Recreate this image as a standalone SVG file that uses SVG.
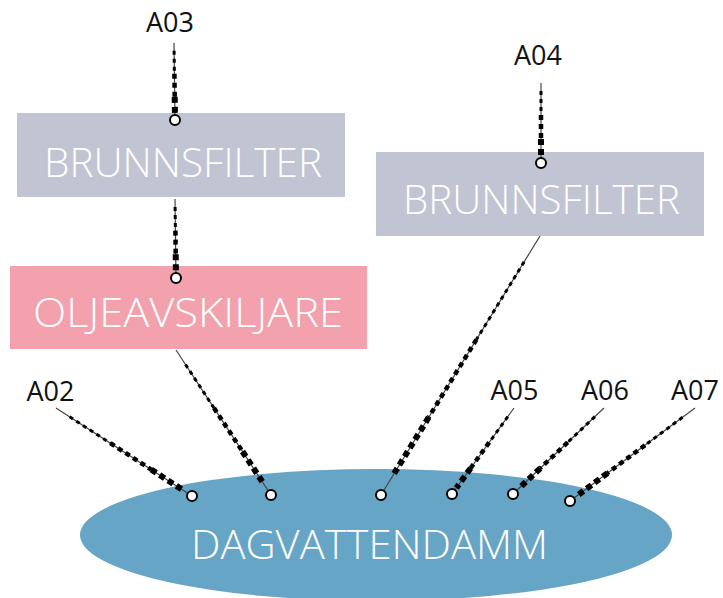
<svg xmlns="http://www.w3.org/2000/svg" width="723" height="598" viewBox="0 0 723 598">
<style>
.box-g{fill:#c1c4d2}
.box-p{fill:#f2a1ad}
.pond{fill:#67a5c6}
.nt{font-family:"Open Sans","Liberation Sans",sans-serif;font-size:41px;font-weight:300;fill:#ffffff;text-anchor:middle}
.lb{font-family:"Open Sans","Liberation Sans",sans-serif;font-size:27px;fill:#111111;text-anchor:middle}
.base{stroke:#444;stroke-width:1.2;fill:none}
.d1{stroke:#000;stroke-width:3;stroke-dasharray:4 4;fill:none}
.d2{stroke:#000;stroke-width:4.5;stroke-dasharray:5 4;fill:none}
.d3{stroke:#000;stroke-width:6;stroke-dasharray:6 4;fill:none}
.pt{fill:#fff;stroke:#000;stroke-width:2}
</style>
<rect width="723" height="598" fill="#fff"/>
<g id="node-brunnsfilter1"><rect class="box-g" x="17" y="113" width="328" height="84"/><text class="nt" x="183" y="177" textLength="278" lengthAdjust="spacingAndGlyphs">BRUNNSFILTER</text></g>
<g id="node-oljeavskiljare"><rect class="box-p" x="10" y="266" width="357" height="83"/><text class="nt" x="188" y="327" textLength="310" lengthAdjust="spacingAndGlyphs">OLJEAVSKILJARE</text></g>
<g id="node-brunnsfilter2"><rect class="box-g" x="376" y="152" width="328" height="84"/><text class="nt" x="541.5" y="214" textLength="277" lengthAdjust="spacingAndGlyphs">BRUNNSFILTER</text></g>
<g id="node-dagvattendamm"><ellipse class="pond" cx="376" cy="535" rx="296" ry="66"/><text class="nt" x="369.5" y="559" textLength="357" lengthAdjust="spacingAndGlyphs">DAGVATTENDAMM</text></g>
<g id="labels">
<text class="lb" x="170" y="32">A03</text>
<text class="lb" x="538" y="65">A04</text>
<text class="lb" x="50.5" y="401">A02</text>
<text class="lb" x="514.5" y="400">A05</text>
<text class="lb" x="605" y="400">A06</text>
<text class="lb" x="695" y="400">A07</text>
</g>
<g id="connectors">
<g><line class="base" x1="174" y1="43" x2="175" y2="120"/><line class="d1" x1="174.1" y1="50.7" x2="174.4" y2="73.8"/><line class="d2" x1="174.4" y1="73.8" x2="174.7" y2="96.9"/><line class="d3" x1="174.7" y1="96.9" x2="174.93" y2="114.6"/><circle class="pt" cx="175" cy="120" r="5"/></g>
<g><line class="base" x1="175" y1="199" x2="176" y2="278"/><line class="d1" x1="175.1" y1="206.9" x2="175.4" y2="230.6"/><line class="d2" x1="175.4" y1="230.6" x2="175.7" y2="254.3"/><line class="d3" x1="175.7" y1="254.3" x2="175.93" y2="272.5"/><circle class="pt" cx="176" cy="278" r="5"/></g>
<g><line class="base" x1="541" y1="83" x2="541" y2="163"/><line class="d1" x1="541" y1="91" x2="541" y2="115"/><line class="d2" x1="541" y1="115" x2="541" y2="139"/><line class="d3" x1="541" y1="139" x2="541" y2="157.4"/><circle class="pt" cx="541" cy="163" r="5"/></g>
<g><line class="base" x1="56" y1="408" x2="192" y2="496"/><line class="d1" x1="69.6" y1="416.8" x2="110.4" y2="443.2"/><line class="d2" x1="110.4" y1="443.2" x2="151.2" y2="469.6"/><line class="d3" x1="151.2" y1="469.6" x2="182.5" y2="489.8"/><circle class="pt" cx="192" cy="496" r="5"/></g>
<g><line class="base" x1="176" y1="350" x2="271" y2="495"/><line class="d1" x1="185.5" y1="364.5" x2="214" y2="408"/><line class="d2" x1="214" y1="408" x2="242.5" y2="451.5"/><line class="d3" x1="242.5" y1="451.5" x2="264.35" y2="484.85"/><circle class="pt" cx="271" cy="495" r="5"/></g>
<g><line class="base" x1="540" y1="236" x2="381" y2="495"/><line class="d1" x1="524.1" y1="261.9" x2="476.4" y2="339.6"/><line class="d2" x1="476.4" y1="339.6" x2="428.7" y2="417.3"/><line class="d3" x1="428.7" y1="417.3" x2="392.13" y2="476.87"/><circle class="pt" cx="381" cy="495" r="5"/></g>
<g><line class="base" x1="514" y1="408" x2="452" y2="494"/><line class="d1" x1="507.8" y1="416.6" x2="489.2" y2="442.4"/><line class="d2" x1="489.2" y1="442.4" x2="470.6" y2="468.2"/><line class="d3" x1="470.6" y1="468.2" x2="456.34" y2="487.98"/><circle class="pt" cx="452" cy="494" r="5"/></g>
<g><line class="base" x1="604" y1="408" x2="513" y2="494"/><line class="d1" x1="594.9" y1="416.6" x2="567.6" y2="442.4"/><line class="d2" x1="567.6" y1="442.4" x2="540.3" y2="468.2"/><line class="d3" x1="540.3" y1="468.2" x2="519.37" y2="487.98"/><circle class="pt" cx="513" cy="494" r="5"/></g>
<g><line class="base" x1="695" y1="408" x2="570" y2="501"/><line class="d1" x1="682.5" y1="417.3" x2="645" y2="445.2"/><line class="d2" x1="645" y1="445.2" x2="607.5" y2="473.1"/><line class="d3" x1="607.5" y1="473.1" x2="578.75" y2="494.49"/><circle class="pt" cx="570" cy="501" r="5"/></g>
</g>
</svg>
